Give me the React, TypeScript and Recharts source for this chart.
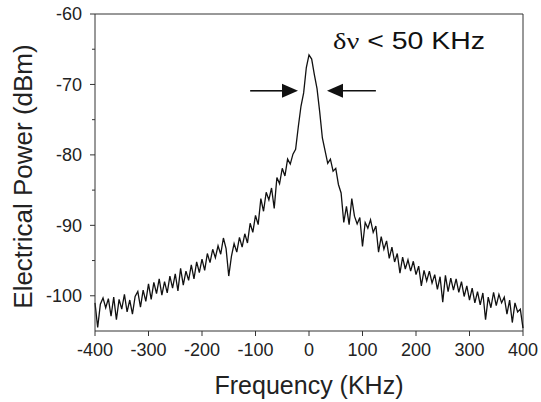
import React from 'react';
import { LineChart, Line, XAxis, YAxis, ReferenceLine, ReferenceDot, Label } from 'recharts';

const FREQ_START = -400;
const FREQ_STEP = 5;

// dBm, -400 .. -105 kHz
const wingLeft = [
  -101.0, -104.5, -101.2, -100.3, -101.7, -100.4, -102.9, -100.2, -103.4, -100.5,
  -101.9, -99.8, -102.3, -100.6, -102.6, -100.1, -99.4, -101.6, -99.2, -100.8,
  -98.3, -100.5, -98.1, -99.7, -97.6, -99.9, -98.0, -99.6, -97.2, -98.9,
  -96.9, -99.3, -96.1, -98.5, -96.5, -97.8, -95.6, -97.6, -95.2, -96.7,
  -94.8, -96.4, -94.0, -95.3, -93.4, -94.6, -92.9, -94.1, -91.8, -93.3,
  -97.2, -94.4, -92.6, -93.8, -91.7, -93.1, -91.2, -92.5, -89.7, -91.0,
];

// -100 .. 100 kHz
const core = [
  -88.6, -89.9, -86.2, -88.0, -85.3, -86.4, -84.7, -87.6, -83.2, -84.1,
  -81.9, -83.0, -80.6, -81.3, -79.9, -79.2, -76.0, -73.1, -71.2, -67.6,
  -65.8,
  -66.4, -68.6, -70.6, -73.9, -77.6, -79.4, -81.2, -80.6, -82.3, -81.9,
  -84.2, -85.4, -89.6, -87.3, -89.9, -86.2, -88.7, -89.8, -88.9, -93.0,
];

// 105 .. 400 kHz
const wingRight = [
  -89.6, -90.4, -89.2, -91.0, -90.1, -93.8, -91.6, -93.4, -92.2, -94.7,
  -93.1, -95.2, -94.0, -96.8, -94.5, -96.2, -94.9, -96.5, -95.1, -97.0,
  -95.8, -98.6, -96.4, -97.9, -96.5, -98.2, -97.0, -99.1, -97.3, -100.9,
  -97.1, -99.4, -97.5, -99.2, -97.6, -99.5, -98.0, -100.1, -98.6, -100.6,
  -98.9, -101.0, -99.4, -101.3, -99.6, -103.4, -100.2, -101.7, -99.5, -101.4,
  -99.8, -101.0, -100.2, -102.6, -100.6, -103.8, -101.0, -102.3, -101.9, -104.6,
];

const xTicks = [-400, -300, -200, -100, 0, 100, 200, 300, 400];
const yTicks = [-100, -95, -90, -85, -80, -75, -70, -65, -60];

const power = [...wingLeft, ...core, ...wingRight];
const data = power.map((p, i) => ({ f: FREQ_START + i * FREQ_STEP, p }));

const SANS = '"Liberation Sans", Arial, sans-serif';
const AXIS = '#333';

const YTick = (props: any) => {
  const { x, y, payload } = props;
  const major = payload.value % 10 === 0;
  return (
    <g>
      <line x1={x} y1={y} x2={x - (major ? 5 : 3)} y2={y} stroke={AXIS} />
      {major && (
        <text x={x - 13} y={y} dy="0.355em" textAnchor="end" fontSize={18} fontFamily={SANS} fill="#222">
          {payload.value}
        </text>
      )}
    </g>
  );
};

const XTick = (props: any) => {
  const { x, y, payload } = props;
  return (
    <g>
      <line x1={x} y1={y} x2={x} y2={y + 5} stroke={AXIS} />
      <text x={x} y={y + 12} dy="0.71em" textAnchor="middle" fontSize={18} fontFamily={SANS} fill="#222">
        {payload.value}
      </text>
    </g>
  );
};

const Arrow = (props: any) => {
  const { x1, y1, x2, y2 } = props;
  const dir = x2 > x1 ? 1 : -1;
  const head = 16;
  return (
    <g>
      <line x1={x1} y1={y1} x2={x2 - dir * head} y2={y2} stroke="#111" strokeWidth={1.6} />
      <polygon
        points={`${x2},${y2} ${x2 - dir * head},${y2 - 7} ${x2 - dir * head},${y2 + 7}`}
        fill="#111"
      />
    </g>
  );
};

const Annotation = (props: any) => {
  const { cx, cy } = props;
  return (
    <text
      x={cx}
      y={cy}
      fontSize={23}
      fontFamily={SANS}
      fill="#111"
      textLength={152}
      lengthAdjust="spacingAndGlyphs"
    >
      <tspan fontFamily='"Liberation Serif", "Times New Roman", serif'>δν</tspan>
      <tspan> &lt; 50 KHz</tspan>
    </text>
  );
};

export default function App() {
  return (
    <div style={{ position: 'absolute', left: 0, top: 0, background: '#fff' }}>
      <LineChart width={541} height={402} data={data} margin={{ top: 14, right: 18, bottom: 0, left: 0 }}>
        <XAxis
          dataKey="f"
          type="number"
          domain={[-400, 400]}
          ticks={xTicks}
          height={71}
          stroke={AXIS}
          tickSize={0}
          tickMargin={0}
          tick={<XTick />}
          interval={0}
        >
          <Label
            content={({ viewBox }: any) => (
              <text
                x={viewBox.x + viewBox.width / 2}
                y={viewBox.y + 63}
                textAnchor="middle"
                fontSize={25}
                fontFamily={SANS}
                fill="#222"
              >
                Frequency (KHz)
              </text>
            )}
          />
        </XAxis>
        <YAxis
          type="number"
          domain={[-105, -60]}
          ticks={yTicks}
          width={95}
          stroke={AXIS}
          tickSize={0}
          tickMargin={0}
          tick={<YTick />}
          interval={0}
          allowDataOverflow
        >
          <Label
            content={({ viewBox }: any) => {
              const cx = 32;
              const cy = viewBox.y + viewBox.height / 2 + 4;
              return (
                <text
                  x={cx}
                  y={cy}
                  transform={`rotate(-90, ${cx}, ${cy})`}
                  textAnchor="middle"
                  fontSize={26}
                  fontFamily={SANS}
                  fill="#222"
                >
                  Electrical Power (dBm)
                </text>
              );
            }}
          />
        </YAxis>
        <ReferenceLine y={-60} stroke={AXIS} />
        <ReferenceLine x={400} stroke={AXIS} />
        <Line
          type="linear"
          dataKey="p"
          stroke="#111"
          strokeWidth={1.3}
          dot={false}
          isAnimationActive={false}
        />
        <ReferenceLine segment={[{ x: -110, y: -70.9 }, { x: -20.6, y: -70.9 }]} shape={<Arrow />} />
        <ReferenceLine segment={[{ x: 125, y: -70.9 }, { x: 33.6, y: -70.9 }]} shape={<Arrow />} />
        <ReferenceDot x={44.9} y={-65} r={0} shape={<Annotation />} />
      </LineChart>
    </div>
  );
}
